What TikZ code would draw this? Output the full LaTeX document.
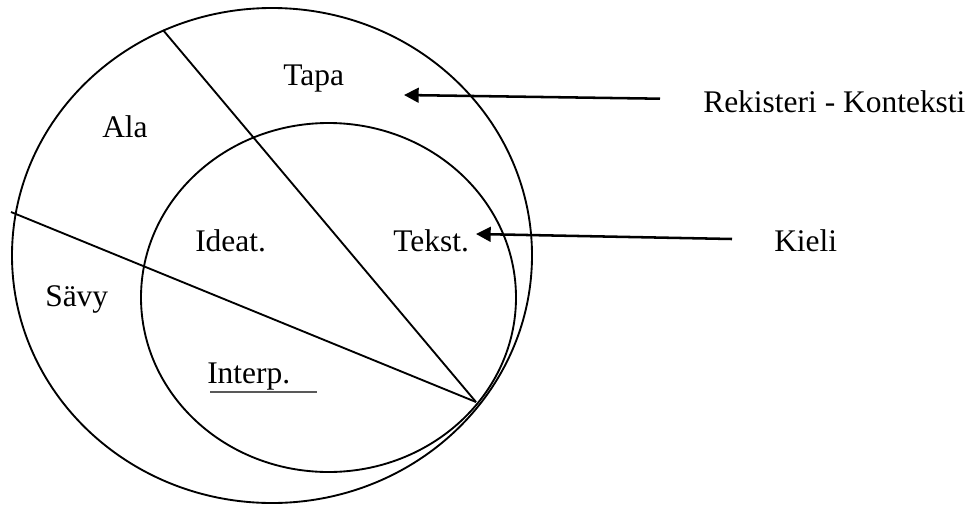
\documentclass[tikz,border=0pt]{standalone}
\usepackage{fontspec}
\setmainfont{Liberation Serif}
\usetikzlibrary{arrows.meta}
\tikzset{
  lbl/.style={anchor=base west, inner sep=0pt, font=\fontsize{23.6}{28}\selectfont},
  ring/.style={line width=1.4pt, black},
  divider/.style={line width=1.4pt, black},
  pointer/.style={line width=1.9pt, -{Triangle[length=11pt,width=11pt]}},
}
\begin{document}
\begin{tikzpicture}[x=0.75pt,y=-0.75pt]
\useasboundingbox (0,0) rectangle (975,504);
% circles
\draw[ring] (272,255.5) ellipse [x radius=260, y radius=247.5];
\draw[ring] (328.5,297.5) ellipse [x radius=187.5, y radius=174.5];
% dividers
\coordinate (apex) at (476,402);
\coordinate (topend) at (163,30);
\coordinate (leftend) at (11,212);
\draw[divider] (topend) -- (apex);
\draw[divider] (leftend) -- (apex);
% labels
\node[lbl] (tapa) at (283,85) {Tapa};
\node[lbl] (ala) at (102,137) {Ala};
\node[lbl] (ideat) at (195,251) {Ideat.};
\node[lbl] (tekst) at (393,251) {Tekst.};
\node[lbl] (savy) at (45,306) {Sävy};
\node[lbl] (interp) at (207,383) {Interp.};
\node[lbl] (rek) at (703,112) {Rekisteri - Konteksti};
\node[lbl] (kieli) at (774,251) {Kieli};
% underline
\coordinate (ul1) at (210,392);
\coordinate (ul2) at (317,392);
\draw[line width=0.9pt, black!65] (ul1) -- (ul2);
% arrows
\coordinate (a1tail) at (660,98.7);
\coordinate (a1tip) at (404,95);
\coordinate (a2tail) at (732,239);
\coordinate (a2tip) at (476,234);
\draw[pointer] (a1tail) -- (a1tip);
\draw[pointer] (a2tail) -- (a2tip);
\end{tikzpicture}
\end{document}
